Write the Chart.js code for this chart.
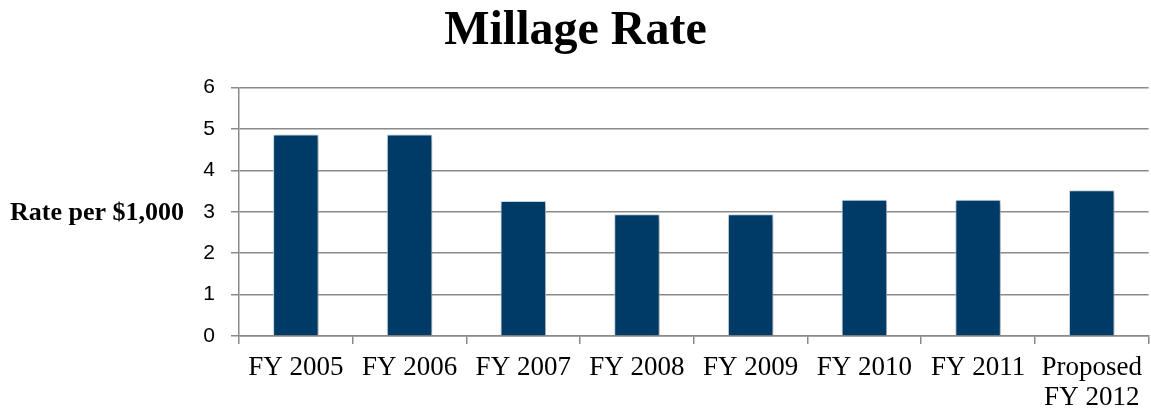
<!DOCTYPE html>
<html lang="en">
<head>
  <meta charset="UTF-8">
  <title>Millage Rate</title>
  <script src="https://cdn.jsdelivr.net/npm/chart.js"></script>
  <style>
    html, body { margin: 0; padding: 0; background: #fff; }
    #wrap { width: 1151px; height: 409px; }
  </style>
</head>
<body>
<div id="wrap">
  <canvas id="grafico" width="1151" height="409"></canvas>
</div>

<script>
  // fiscal years and millage rate per $1,000 of assessed value
  const years = ["FY 2005", "FY 2006", "FY 2007", "FY 2008", "FY 2009", "FY 2010", "FY 2011", ["Proposed", "FY 2012"]];
  const rates = [4.87, 4.87, 3.26, 2.94, 2.94, 3.29, 3.29, 3.52];
  const yTicks = [0, 1, 2, 3, 4, 5, 6];

  const gridGray = "#8a8a8a";
  const serif = "'Liberation Serif', 'Times New Roman', serif";

  // soft drop shadow behind the bars
  const barShadow = {
    id: "barShadow",
    beforeDatasetsDraw(chart) {
      const ctx = chart.ctx;
      ctx.save();
      ctx.shadowColor = "rgba(0,0,0,0.35)";
      ctx.shadowBlur = 6;
      ctx.shadowOffsetX = 2;
      ctx.shadowOffsetY = 2;
    },
    afterDatasetsDraw(chart) {
      chart.ctx.restore();
    }
  };

  // horizontal axis caption on the left side
  const yCaption = {
    id: "yCaption",
    afterDraw(chart) {
      const ctx = chart.ctx;
      const area = chart.chartArea;
      ctx.save();
      ctx.font = "bold 26px " + serif;
      ctx.fillStyle = "#000";
      ctx.textAlign = "left";
      ctx.textBaseline = "middle";
      ctx.fillText("Rate per $1,000", 10, (area.top + area.bottom) / 2 + 1);
      ctx.restore();
    }
  };

  new Chart(document.getElementById("grafico"), {
    type: "bar",
    data: {
      labels: years,
      datasets: [{
        data: rates,
        backgroundColor: "#003a66",
        borderColor: "#d3e0ec",
        borderWidth: 1,
        categoryPercentage: 1,
        barPercentage: 0.4
      }]
    },
    options: {
      responsive: false,
      animation: false,
      layout: { padding: 0 },
      plugins: {
        legend: { display: false },
        tooltip: { enabled: false },
        title: {
          display: true,
          text: "Millage Rate",
          color: "#000",
          font: { family: serif, size: 48, weight: "bold" },
          padding: { top: 3, bottom: 27 }
        }
      },
      scales: {
        x: {
          afterFit(scale) { scale.height = 73; },
          grid: {
            display: true,
            drawOnChartArea: false,
            drawTicks: true,
            tickLength: 8,
            color: gridGray,
            lineWidth: 1.5
          },
          border: { color: gridGray, width: 1.5 },
          ticks: {
            color: "#000",
            padding: 9,
            maxRotation: 0,
            font: { family: serif, size: 27, lineHeight: 1.1 }
          }
        },
        y: {
          min: 0,
          max: 6,
          afterFit(scale) { scale.width = 239; },
          afterBuildTicks(scale) { scale.ticks = yTicks.map(v => ({ value: v })); },
          grid: {
            color: gridGray,
            lineWidth: 1.5,
            tickLength: 8
          },
          border: { color: gridGray, width: 1.5 },
          ticks: {
            color: "#000",
            padding: 16,
            font: { family: "'Liberation Sans', Arial, sans-serif", size: 21 }
          }
        }
      }
    },
    plugins: [barShadow, yCaption]
  });
</script>
</body>
</html>
